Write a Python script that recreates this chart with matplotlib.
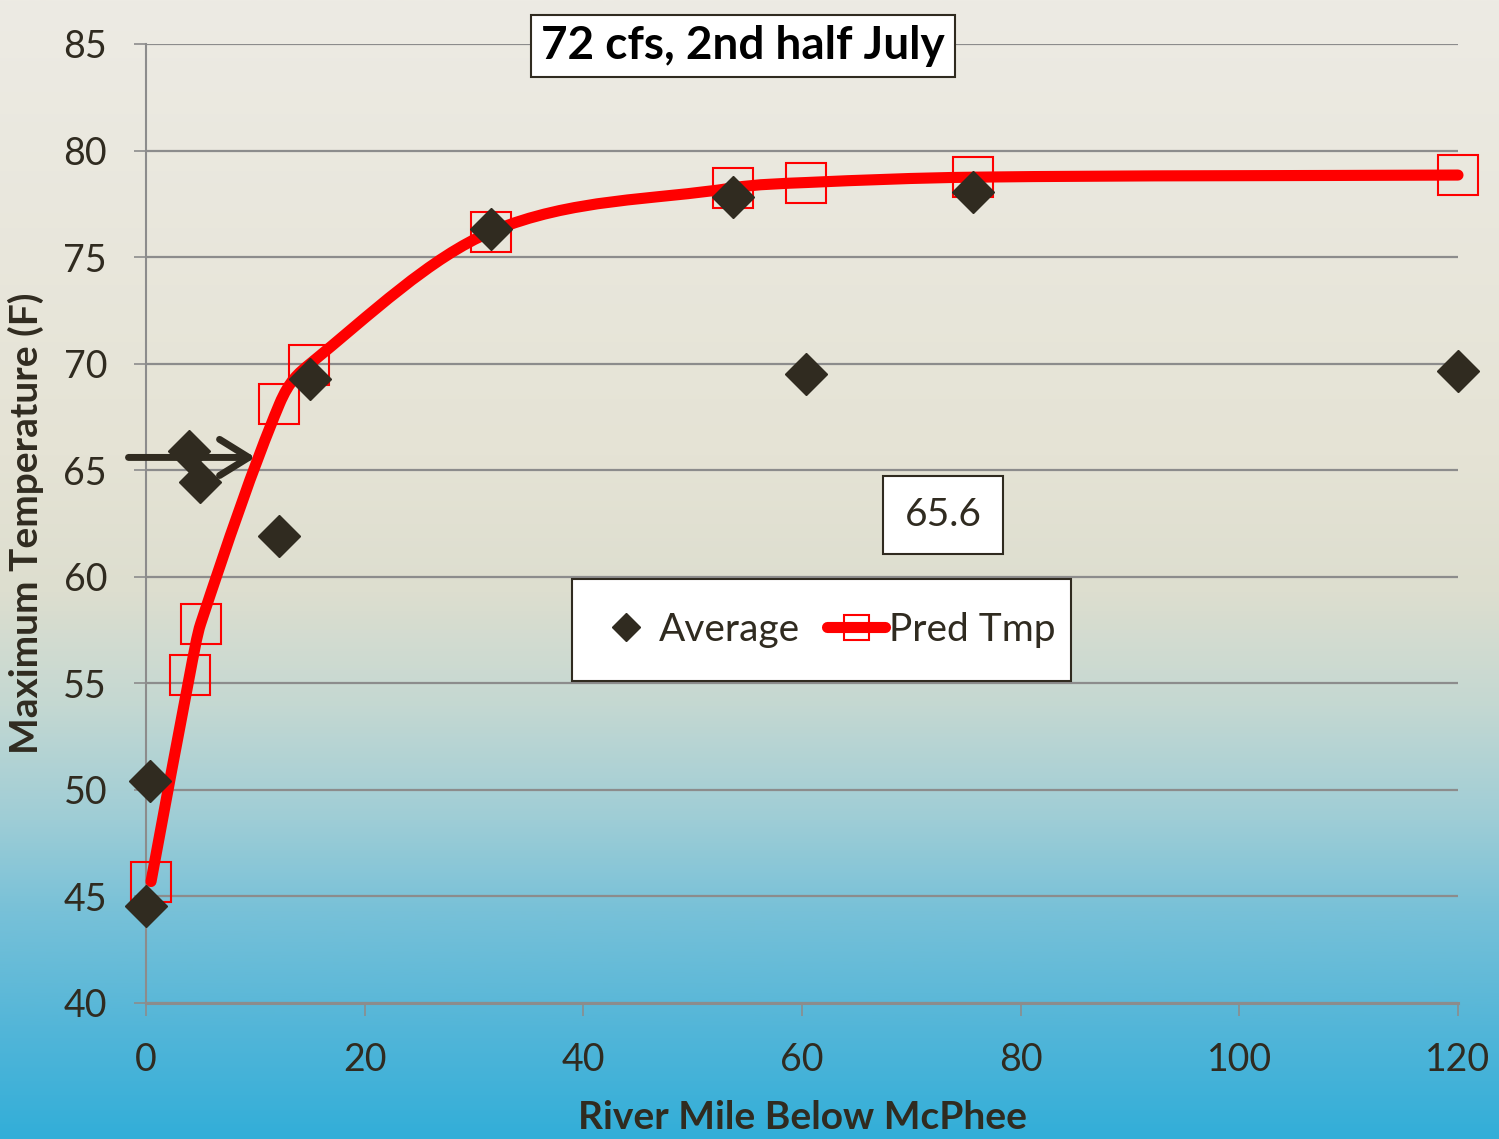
import numpy as np
import matplotlib
matplotlib.use("Agg")
from matplotlib import pyplot as plt
from matplotlib.path import Path
from matplotlib.patches import PathPatch, Rectangle

plt.rcParams['font.family'] = ['Lato', 'DejaVu Sans']

# data
avg_mile = [0.0, 0.4, 3.9, 4.9, 12.2, 15.0, 31.6, 53.7, 60.4, 75.6, 120.0]
avg_temp = [44.55, 50.4, 65.9, 64.45, 61.9, 69.3, 76.3, 77.8, 69.5, 78.05, 69.65]

pred_mile = [0.46, 4.0, 5.0, 12.2, 14.9, 31.6, 53.7, 60.4, 75.6, 120.0]
pred_temp = [45.7, 55.4, 57.8, 68.1, 69.95, 76.2, 78.25, 78.5, 78.75, 78.85]

target_temp = 65.6
title = "72 cfs, 2nd half July"

dark = '#302b20'
grid_c = '#8c8c8c'


def smooth_path(xs, ys):
    """ smoothed line like Excel's: cubic bezier, tangents from neighbouring points """
    pts = np.column_stack([xs, ys]).astype(float)
    n = len(pts)
    tang = np.zeros_like(pts)
    for i in range(n):
        a = pts[max(i - 1, 0)]
        b = pts[min(i + 1, n - 1)]
        tang[i] = (b - a) / (b[0] - a[0])
    verts = [pts[0]]
    codes = [Path.MOVETO]
    for i in range(n - 1):
        dx = pts[i + 1, 0] - pts[i, 0]
        verts += [pts[i] + tang[i] * dx / 3.0, pts[i + 1] - tang[i + 1] * dx / 3.0, pts[i + 1]]
        codes += [Path.CURVE4] * 3
    return Path(verts, codes)


fig = plt.figure(figsize=(14.99, 11.39), dpi=100)

# background gradient
bg = fig.add_axes([0, 0, 1, 1], zorder=-10)
stops = np.array([0.0, 0.40, 0.52, 0.62, 0.72, 0.80, 0.90, 1.0])
cols = np.array([
    [237, 235, 228],
    [229, 227, 213],
    [221, 222, 207],
    [196, 216, 210],
    [158, 205, 214],
    [120, 193, 216],
    [84, 182, 216],
    [50, 174, 217],
]) / 255.0
yy = np.linspace(0, 1, 600)
grad = np.stack([np.interp(yy, stops, cols[:, k]) for k in range(3)], axis=1)
bg.imshow(grad[:, None, :], aspect='auto', extent=[0, 1, 0, 1], origin='upper')
bg.axis('off')

ax = fig.add_axes([146 / 1499, 1 - 1003 / 1139, 1312 / 1499, 959 / 1139])
ax.patch.set_alpha(0)

ax.set_xlim(0, 120)
ax.set_ylim(40, 85)
ax.set_xticks(np.arange(0, 121, 20))
ax.set_yticks(np.arange(40, 86, 5))
ax.yaxis.grid(True, color=grid_c, linewidth=1.6)
ax.set_axisbelow(True)
for s in ['top', 'right']:
    ax.spines[s].set_visible(False)
ax.spines['left'].set_color(grid_c)
ax.spines['left'].set_linewidth(1.5)
ax.spines['bottom'].set_color(grid_c)
ax.spines['bottom'].set_linewidth(2.2)
ax.tick_params(axis='both', colors=grid_c, length=9, width=1.2, labelcolor=dark, labelsize=27)
ax.tick_params(axis='y', pad=19)
ax.tick_params(axis='x', pad=19)

ax.set_xlabel("River Mile Below McPhee", fontsize=28, fontweight='bold', color=dark, labelpad=16)
ax.set_ylabel("Maximum Temperature (F)", fontsize=28, fontweight='bold', color=dark, labelpad=14)

# smoothed prediction line
ax.add_patch(PathPatch(smooth_path(pred_mile, pred_temp), facecolor='none', edgecolor='#ff0000',
                       linewidth=8, capstyle='round', joinstyle='round', zorder=3, clip_on=False))
ax.plot(pred_mile, pred_temp, linestyle='none', marker='s', markersize=29, markerfacecolor='none',
        markeredgecolor='#ff0000', markeredgewidth=1.5, zorder=4, clip_on=False)
ax.plot(avg_mile, avg_temp, linestyle='none', marker='D', markersize=21, color=dark,
        zorder=5, clip_on=False)

# legend handles
h_avg, = ax.plot([], [], linestyle='none', marker='D', markersize=14, color=dark, label='Average')
h_pred, = ax.plot([], [], color='#ff0000', linewidth=8, solid_capstyle='round', marker='s', markersize=18,
                  markerfacecolor='none', markeredgecolor='#ff0000', markeredgewidth=1.5, label='Pred Tmp')

# arrow at the target temperature
ax.annotate('', xy=(10.0, target_temp), xytext=(-1.6, target_temp),
            arrowprops=dict(arrowstyle='->,head_length=2.1,head_width=1.3', color=dark, lw=5,
                            capstyle='round', shrinkA=0, shrinkB=0),
            annotation_clip=False, zorder=6)

# title box
fig.text(743 / 1499, 1 - 46 / 1139, title, fontsize=33, fontweight='bold', color='black',
         ha='center', va='center',
         bbox=dict(boxstyle='square,pad=0.22', facecolor='white', edgecolor=dark, linewidth=1.5))

# value box
fig.text(943 / 1499, 1 - 515 / 1139, f"{target_temp}", fontsize=28, color=dark, ha='center', va='center',
         bbox=dict(boxstyle='square,pad=0.55', facecolor='white', edgecolor=dark, linewidth=1.5))

# legend box
fig.patches.append(Rectangle((572 / 1499, 1 - 681 / 1139), 499 / 1499, 102 / 1139, transform=fig.transFigure,
                             facecolor='white', edgecolor=dark, linewidth=1.5, zorder=7))
leg = fig.legend(handles=[h_avg, h_pred], loc='center', bbox_to_anchor=(826 / 1499, 1 - 630 / 1139),
                 ncol=2, frameon=False, fontsize=28, handlelength=1.5, handletextpad=0.1,
                 columnspacing=0.7, labelcolor=dark)
leg.set_zorder(8)

fig.savefig('out.png', dpi=100)
